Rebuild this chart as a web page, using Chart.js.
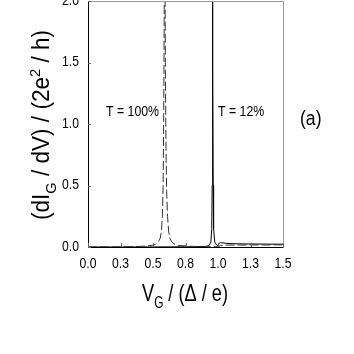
<!DOCTYPE html>
<html>
<head>
<meta charset="utf-8">
<script src="https://cdn.jsdelivr.net/npm/chart.js@4/dist/chart.umd.min.js"></script>
<style>
html,body{margin:0;padding:0;background:#fff;}
#wrap{width:354px;height:354px;position:relative;}
</style>
</head>
<body>
<div id="wrap"><canvas id="c" width="354" height="354"></canvas></div>
<script>
// ---- data ----
const xTickLabels = ["0.0","0.3","0.5","0.8","1.0","1.3","1.5"];
const yTickLabels = ["0.0","0.5","1.0","1.5","2.0"];

// T = 100% (dashed)
const vg100 = [0,0.1,0.2,0.3,0.4,0.45,0.5,0.52,0.54,0.555,0.565,0.572,0.578,0.582,0.585,0.588,0.592,0.595,0.6,0.605,0.612,0.62,0.63,0.645,0.67,0.7,0.8,0.9,0.97,1.0,1.02,1.05,1.1,1.2,1.3,1.4,1.5];
const g100  = [0,0.001,0.001,0.002,0.005,0.008,0.015,0.022,0.04,0.07,0.13,0.25,0.5,1.0,1.6,2.3,2.3,1.5,0.8,0.45,0.25,0.13,0.07,0.04,0.02,0.012,0.005,0.003,0.002,0.003,0.012,0.015,0.016,0.016,0.017,0.017,0.018];

// T = 12% (solid)
const vg12 = [0,0.3,0.6,0.8,0.9,0.93,0.945,0.952,0.955,0.957,0.959,0.961,0.963,0.966,0.975,0.99,1.0,1.01,1.02,1.03,1.06,1.1,1.2,1.3,1.4,1.5];
const g12  = [0,0.0,0.001,0.002,0.004,0.01,0.04,0.15,0.5,1.4,2.3,1.4,0.5,0.15,0.04,0.015,0.012,0.03,0.037,0.034,0.03,0.027,0.025,0.024,0.023,0.023];

const toPts = (xs, ys) => xs.map((x, i) => ({x: x, y: ys[i]}));

const FONT = "'Liberation Sans',Arial,sans-serif";

const L = 88, T = 1, R = 283, B = 247;

// draw text compressed horizontally to a given squeeze factor
function squeezeText(ctx, text, x, y, size, sq, align) {
  ctx.save();
  ctx.font = size + "px " + FONT;
  const w = ctx.measureText(text).width * sq;
  let x0 = x;
  if (align === 'center') x0 = x - w / 2;
  else if (align === 'right') x0 = x - w;
  ctx.translate(x0, y);
  ctx.scale(sq, 1);
  ctx.textAlign = 'left';
  ctx.fillText(text, 0, 0);
  ctx.restore();
}

function richWidth(ctx, parts, size) {
  let w = 0;
  for (const p of parts) {
    const s = p.sub || p.sup ? size * 0.65 : size;
    ctx.font = s + "px " + FONT;
    w += ctx.measureText(p.t).width;
  }
  return w;
}
function drawRich(ctx, parts, size, targetW) {
  const w = richWidth(ctx, parts, size);
  const sq = targetW / w;
  ctx.scale(sq, 1);
  let x = -w / 2;
  for (const p of parts) {
    const s = p.sub || p.sup ? size * 0.65 : size;
    ctx.font = s + "px " + FONT;
    const dy = p.sub ? size * 0.3 : (p.sup ? -size * 0.4 : 0);
    ctx.fillText(p.t, x, dy);
    x += ctx.measureText(p.t).width;
  }
}

const decor = {
  id: 'decor',
  afterDraw(chart) {
    const ctx = chart.ctx;
    const a = chart.chartArea;
    const xs = chart.scales.x, ys = chart.scales.y;
    ctx.save();
    // frame
    ctx.lineWidth = 1;
    ctx.strokeStyle = '#9a9a9a';
    ctx.beginPath();
    ctx.moveTo(a.left, a.top + 0.5); ctx.lineTo(a.right + 0.5, a.top + 0.5); ctx.lineTo(a.right + 0.5, a.bottom);
    ctx.stroke();
    ctx.strokeStyle = '#000';
    ctx.beginPath();
    ctx.moveTo(a.left + 0.5, a.top); ctx.lineTo(a.left + 0.5, a.bottom + 0.5); ctx.lineTo(a.right + 0.5, a.bottom + 0.5);
    ctx.stroke();
    // inward ticks
    ctx.strokeStyle = '#666';
    ctx.beginPath();
    for (let i = 0; i < xTickLabels.length; i++) {
      const px = Math.round(xs.getPixelForValue(i * 0.25)) + 0.5;
      ctx.moveTo(px, a.bottom); ctx.lineTo(px, a.bottom - 4);
    }
    for (let i = 0; i < yTickLabels.length; i++) {
      const py = Math.round(ys.getPixelForValue(i * 0.5)) + 0.5;
      ctx.moveTo(a.left, py); ctx.lineTo(a.left + 3, py);
    }
    ctx.stroke();

    ctx.fillStyle = '#000';
    ctx.textBaseline = 'middle';
    // tick labels
    for (let i = 0; i < xTickLabels.length; i++) {
      const px = xs.getPixelForValue(i * 0.25);
      squeezeText(ctx, xTickLabels[i], px, 264, 14, 0.87, 'center');
    }
    for (let i = 0; i < yTickLabels.length; i++) {
      const py = ys.getPixelForValue(i * 0.5);
      squeezeText(ctx, yTickLabels[i], 79, py, 14, 0.87, 'right');
    }

    ctx.textBaseline = 'alphabetic';
    // y title
    ctx.save();
    ctx.translate(49, 125);
    ctx.rotate(-Math.PI / 2);
    drawRich(ctx, [{t:'(dI'},{t:'G',sub:true},{t:' / dV) / (2e'},{t:'2',sup:true},{t:' / h)'}], 23, 190);
    ctx.restore();
    // x title
    ctx.save();
    ctx.translate(185, 301);
    drawRich(ctx, [{t:'V'},{t:'G',sub:true},{t:' / (Δ / e)'}], 24, 86);
    ctx.restore();
    // annotations
    ctx.textBaseline = 'middle';
    squeezeText(ctx, 'T = 100%', 106, 112, 14, 0.88, 'left');
    squeezeText(ctx, 'T = 12%', 218, 112, 14, 0.88, 'left');
    squeezeText(ctx, '(a)', 300, 119, 20, 0.88, 'left');
    ctx.restore();
  }
};

new Chart(document.getElementById('c'), {
  type: 'line',
  data: {
    datasets: [
      { label: 'T = 100%', data: toPts(vg100, g100), borderColor: '#333', borderWidth: 1, borderDash: [9, 3], pointRadius: 0, tension: 0, fill: false },
      { label: 'T = 12%', data: toPts(vg12, g12), borderColor: '#000', borderWidth: 1, pointRadius: 0, tension: 0, fill: false }
    ]
  },
  options: {
    responsive: false,
    animation: false,
    events: [],
    layout: { padding: { left: 0, top: T, right: 354 - R, bottom: 0 } },
    plugins: { legend: { display: false }, tooltip: { enabled: false } },
    scales: {
      x: {
        type: 'linear', min: 0, max: 1.5,
        border: { display: false },
        grid: { display: false },
        afterFit(s) { s.height = 354 - B; s.paddingLeft = 0; s.paddingRight = 0; },
        ticks: { display: false }
      },
      y: {
        type: 'linear', min: 0, max: 2,
        border: { display: false },
        grid: { display: false },
        afterFit(s) { s.width = L; s.paddingTop = 0; s.paddingBottom = 0; },
        ticks: { display: false }
      }
    }
  },
  plugins: [decor]
});
</script>
</body>
</html>
